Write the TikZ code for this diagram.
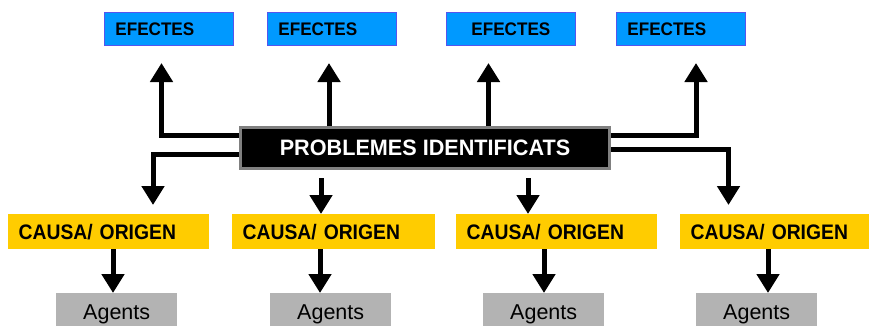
\documentclass[tikz,border=0pt]{standalone}
\usepackage{fontspec}
\setmainfont{Liberation Sans}
\newfontfamily\effont[FakeStretch=0.94]{Liberation Sans}
\newfontfamily\cafont[FakeStretch=0.92]{Liberation Sans}
\newfontfamily\prfont[FakeStretch=0.97]{Liberation Sans}
\usetikzlibrary{arrows.meta}
\definecolor{efblue}{HTML}{0099FF}
\definecolor{efborder}{HTML}{5555EE}
\definecolor{causay}{HTML}{FFCC00}
\definecolor{agentg}{HTML}{B3B3B3}
\definecolor{probg}{HTML}{808080}
\tikzset{
  effect/.style={fill=efblue, draw=efborder, line width=0.8pt, anchor=north west,
    minimum height=33pt, inner xsep=11pt, inner ysep=0pt, text width=107pt, align=left,
    font=\effont\bfseries\fontsize{18.2}{20}\selectfont},
  cause/.style={fill=causay, anchor=north west, minimum height=35pt, inner xsep=10.5pt,
    inner ysep=0pt, align=left, font=\cafont\bfseries\fontsize{21}{23}\selectfont},
  agent/.style={fill=agentg, anchor=north west, minimum width=121pt, minimum height=42pt,
    inner sep=0pt, font=\fontsize{21.5}{23}\selectfont},
  problem/.style={fill=black, draw=probg, line width=3pt, minimum width=369pt,
    minimum height=41pt, inner sep=0pt, text=white,
    font=\prfont\bfseries\fontsize{22.3}{24}\selectfont},
  arr/.style={line width=5pt, -{Triangle[width=22pt,length=19pt]}}
}
\begin{document}
\begin{tikzpicture}[x=1pt,y=-1pt]
\useasboundingbox (0,0) rectangle (869,325);
\clip (0,0) rectangle (869,325);
% effects
\node[effect] (e1) at (104,12) {EFECTES};
\node[effect] (e2) at (267,12) {EFECTES};
\node[effect, align=center] (e3) at (446,12) {EFECTES};
\node[effect] (e4) at (616,12) {EFECTES};
% problem
\node[problem] (p) at (425,148) {PROBLEMES IDENTIFICATS};
% causes
\node[cause, text width=180pt] (c1) at (8,214) {CAUSA/ ORIGEN};
\node[cause, text width=182pt] (c2) at (232,214) {CAUSA/ ORIGEN};
\node[cause, text width=180pt] (c3) at (456,214) {CAUSA/ ORIGEN};
\node[cause, text width=168pt] (c4) at (680,214) {CAUSA/ ORIGEN};
% agents
\node[agent] (g1) at (56,293) {Agents};
\node[agent] (g2) at (270,293) {Agents};
\node[agent] (g3) at (483,293) {Agents};
\node[agent] (g4) at (696,293) {Agents};
% helper coordinates
\coordinate (t1) at (161.5,63);
\coordinate (t2) at (329,63);
\coordinate (t3) at (488.5,63);
\coordinate (t4) at (696,63);
\coordinate (hu) at (0,135);
\coordinate (hl) at (0,154.5);
\coordinate (hr) at (0,149);
\coordinate (b1) at (153,205);
\coordinate (s2) at (321,178);
\coordinate (s3) at (528,178);
\coordinate (b4) at (728.5,205);
\coordinate (d1) at (113,0);
\coordinate (d2) at (320,0);
\coordinate (d3) at (544,0);
\coordinate (d4) at (768,0);
% arrows up to effects
\draw[arr] (p.west |- hu) -| (t1);
\draw[arr] (p.north -| t2) -- (t2);
\draw[arr] (p.north -| t3) -- (t3);
\draw[arr] (p.east |- hu) -| (t4);
% arrows down to causes
\draw[arr] (p.west |- hl) -| (b1);
\draw[arr] (s2) -- (c2.north -| s2);
\draw[arr] (s3) -- (c3.north -| s3);
\draw[arr] (p.east |- hr) -| (b4);
% arrows down to agents
\draw[arr] (c1.south -| d1) -- (g1.north -| d1);
\draw[arr] (c2.south -| d2) -- (g2.north -| d2);
\draw[arr] (c3.south -| d3) -- (g3.north -| d3);
\draw[arr] (c4.south -| d4) -- (g4.north -| d4);
\end{tikzpicture}
\end{document}
